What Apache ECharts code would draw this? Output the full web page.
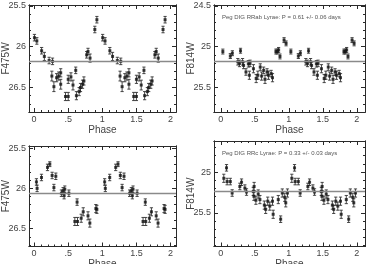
<!DOCTYPE html>
<html>
<head>
<meta charset="utf-8">
<script src="https://cdn.jsdelivr.net/npm/echarts@6/dist/echarts.min.js"></script>
<style>
  html, body { margin: 0; padding: 0; background: #fff; }
  #chart { width: 371px; height: 264px; }
</style>
</head>
<body>
<div id="chart"></div>
<script>
// light curves folded on the period, one cycle each (shown twice: phase and phase + 1)

// top left: F475W, RRab
const p1Phase = [0.005, 0.04, 0.11, 0.15, 0.22, 0.27, 0.26, 0.29, 0.33, 0.36, 0.39, 0.39, 0.46, 0.50, 0.50, 0.54, 0.57, 0.61, 0.62, 0.66, 0.68, 0.71, 0.73, 0.77, 0.79, 0.82, 0.89, 0.92]
const p1Mag = [25.89, 25.93, 26.05, 26.12, 26.17, 26.18, 26.36, 26.49, 26.38, 26.36, 26.32, 26.46, 26.61, 26.61, 26.40, 26.37, 26.47, 26.29, 26.60, 26.55, 26.50, 26.46, 26.42, 26.10, 26.06, 26.14, 25.79, 25.67]
const p1Err = [0.04, 0.04, 0.04, 0.05, 0.04, 0.04, 0.06, 0.06, 0.05, 0.05, 0.05, 0.06, 0.05, 0.05, 0.05, 0.05, 0.06, 0.04, 0.05, 0.05, 0.05, 0.05, 0.05, 0.04, 0.04, 0.05, 0.04, 0.04]
const p1Mean = 26.185

// top right: F814W, RRab
const p2Phase = [0.03, 0.14, 0.17, 0.25, 0.275, 0.29, 0.32, 0.335, 0.37, 0.405, 0.42, 0.43, 0.48, 0.52, 0.545, 0.58, 0.60, 0.63, 0.65, 0.68, 0.70, 0.74, 0.76, 0.81, 0.83, 0.85, 0.87, 0.93, 0.96]
const p2Mag = [25.06, 25.115, 25.08, 25.185, 25.205, 25.05, 25.185, 25.23, 25.31, 25.21, 25.35, 25.205, 25.27, 25.39, 25.35, 25.25, 25.36, 25.29, 25.40, 25.31, 25.35, 25.33, 25.38, 25.06, 25.06, 25.04, 25.12, 24.92, 24.96]
const p2Err = [0.03, 0.03, 0.03, 0.04, 0.04, 0.03, 0.04, 0.04, 0.04, 0.04, 0.05, 0.04, 0.05, 0.05, 0.05, 0.04, 0.05, 0.04, 0.05, 0.04, 0.05, 0.04, 0.05, 0.03, 0.03, 0.03, 0.03, 0.03, 0.03]
const p2Mean = 25.176

// bottom left: F475W, RRc
const p3Phase = [0.034, 0.044, 0.108, 0.196, 0.23, 0.264, 0.29, 0.318, 0.40, 0.425, 0.44, 0.45, 0.51, 0.597, 0.63, 0.636, 0.69, 0.72, 0.79, 0.817, 0.905, 0.92]
const p3Mag = [25.92, 26.00, 25.865, 25.74, 25.70, 25.84, 25.99, 25.85, 26.06, 26.03, 26.09, 26.01, 26.06, 26.41, 26.17, 26.41, 26.37, 26.29, 26.34, 26.43, 26.25, 26.26]
const p3Err = [0.04, 0.04, 0.04, 0.04, 0.03, 0.04, 0.04, 0.04, 0.04, 0.04, 0.04, 0.04, 0.04, 0.05, 0.04, 0.05, 0.05, 0.05, 0.05, 0.05, 0.05, 0.05]
const p3Mean = 26.06

// bottom right: F814W, RRc
const p4Phase = [0.044, 0.084, 0.093, 0.14, 0.167, 0.28, 0.305, 0.354, 0.378, 0.477, 0.49, 0.487, 0.516, 0.55, 0.575, 0.64, 0.66, 0.69, 0.72, 0.76, 0.77, 0.845, 0.88, 0.904, 0.94, 0.955, 0.98]
const p4Mag = [25.076, 24.948, 25.116, 25.116, 25.256, 25.176, 25.124, 25.196, 25.244, 25.236, 25.176, 25.296, 25.344, 25.268, 25.336, 25.404, 25.456, 25.356, 25.416, 25.356, 25.516, 25.336, 25.576, 25.256, 25.308, 25.376, 25.256]
const p4Err = [0.05, 0.04, 0.04, 0.04, 0.04, 0.04, 0.04, 0.04, 0.04, 0.05, 0.05, 0.05, 0.05, 0.05, 0.05, 0.05, 0.05, 0.05, 0.05, 0.05, 0.05, 0.05, 0.04, 0.05, 0.05, 0.05, 0.05]
const p4Mean = 25.24

// tick labels
const xMajor = [0, 0.5, 1, 1.5, 2]
const xMajorLabels = ['0', '.5', '1', '1.5', '2']
const p1YMajor = [25.5, 26, 26.5]
const p2YMajor = [24.5, 25, 25.5]
const p3YMajor = [25.5, 26, 26.5]
const p4YMajor = [25, 25.5]

const notes = ['', 'Peg DIG RRab Lyrae: P = 0.61 +/- 0.06 days', '', 'Peg DIG RRc Lyrae: P = 0.33 +/- 0.03 days']

const panels = [
  { phase: p1Phase, mag: p1Mag, err: p1Err, mean: p1Mean, yMajor: p1YMajor, band: 'F475W',
    grid: { left: 29, top: 5, width: 147, height: 107 }, x: [-0.075, 2.08], y: [25.49, 26.8] },
  { phase: p2Phase, mag: p2Mag, err: p2Err, mean: p2Mean, yMajor: p2YMajor, band: 'F814W',
    grid: { left: 214, top: 5, width: 151, height: 107 }, x: [-0.1, 2.12], y: [24.49, 25.8] },
  { phase: p3Phase, mag: p3Mag, err: p3Err, mean: p3Mean, yMajor: p3YMajor, band: 'F475W',
    grid: { left: 29, top: 146, width: 147, height: 100.5 }, x: [-0.075, 2.08], y: [25.475, 26.72] },
  { phase: p4Phase, mag: p4Mag, err: p4Err, mean: p4Mean, yMajor: p4YMajor, band: 'F814W',
    grid: { left: 214, top: 141, width: 151, height: 105.5 }, x: [-0.1, 2.12], y: [24.62, 25.91] }
]

const FONT = 'Liberation Sans, Arial, sans-serif'
const INK = '#2a2a2a'

// tenths between min and max, for the small ticks
function tenths(min, max) {
  const out = []
  for (let k = Math.ceil(min * 10); k <= Math.floor(max * 10); k++) out.push(k / 10)
  return out
}

function axis(i, range, pos, values, len, labels) {
  return {
    gridIndex: i, type: 'value', min: range[0], max: range[1], position: pos,
    inverse: (pos === 'left' || pos === 'right'),
    axisLine: { show: true, onZero: false, lineStyle: { color: INK, width: 1 } },
    axisTick: { show: true, inside: true, length: len, customValues: values, lineStyle: { color: INK, width: 1 } },
    axisLabel: labels ? {
      show: true, customValues: values, fontSize: 9, fontFamily: FONT, color: '#444', margin: 3,
      formatter: labels
    } : { show: false },
    splitLine: { show: false }
  }
}

const xAxes = [], yAxes = [], series = [], grids = []

panels.forEach((p, i) => {
  // keep the boxes where they are, even if "Phase" runs off the bottom
  grids.push(Object.assign({ containLabel: false, outerBoundsMode: 'none' }, p.grid))
  const xMinor = tenths(0, 2)
  const yMinor = tenths(p.y[0], p.y[1])

  const xMain = axis(i, p.x, 'bottom', xMajor, 4, v => xMajorLabels[xMajor.indexOf(v)])
  xMain.name = 'Phase'
  xMain.nameLocation = 'middle'
  xMain.nameGap = 13
  xMain.nameMoveOverlap = false
  xMain.nameTextStyle = { fontSize: 10, fontFamily: FONT, color: '#444' }
  const xIndex = xAxes.length
  xAxes.push(xMain, axis(i, p.x, 'bottom', xMinor, 2), axis(i, p.x, 'top', xMajor, 4), axis(i, p.x, 'top', xMinor, 2))

  const yMain = axis(i, p.y, 'left', p.yMajor, 4, v => String(v))
  yMain.name = p.band
  yMain.nameLocation = 'middle'
  yMain.nameGap = 18
  yMain.nameMoveOverlap = false
  yMain.nameTextStyle = { fontSize: 10, fontFamily: FONT, color: '#444' }
  const yIndex = yAxes.length
  yAxes.push(yMain, axis(i, p.y, 'left', yMinor, 2), axis(i, p.y, 'right', p.yMajor, 4), axis(i, p.y, 'right', yMinor, 2))

  // two cycles of the same measurements
  const rows = []
  p.phase.forEach((ph, k) => rows.push([ph, p.mag[k], p.err[k]]))
  p.phase.forEach((ph, k) => rows.push([ph + 1, p.mag[k], p.err[k]]))

  series.push({
    type: 'custom', xAxisIndex: xIndex, yAxisIndex: yIndex, data: rows,
    encode: { x: 0, y: 1 }, silent: true,
    renderItem: (params, api) => {
      const x = api.value(0), y = api.value(1), e = api.value(2)
      const lo = api.coord([x, y - e]), hi = api.coord([x, y + e])
      const st = { stroke: '#333', lineWidth: 0.9 }
      return {
        type: 'group',
        children: [
          { type: 'line', shape: { x1: lo[0], y1: lo[1], x2: hi[0], y2: hi[1] }, style: st },
          { type: 'line', shape: { x1: lo[0] - 1.6, y1: lo[1], x2: lo[0] + 1.6, y2: lo[1] }, style: st },
          { type: 'line', shape: { x1: hi[0] - 1.6, y1: hi[1], x2: hi[0] + 1.6, y2: hi[1] }, style: st }
        ]
      }
    }
  })

  series.push({
    type: 'scatter', xAxisIndex: xIndex, yAxisIndex: yIndex, data: rows.map(r => [r[0], r[1]]),
    symbol: 'rect', symbolSize: 3, itemStyle: { color: '#111' }, silent: true,
    markLine: {
      silent: true, symbol: 'none', label: { show: false },
      lineStyle: { color: '#8a8a8a', width: 1.4, type: 'solid' },
      data: [{ yAxis: p.mean }]
    }
  })
})

const graphics = []
notes.forEach((t, i) => {
  if (!t) return
  graphics.push({
    type: 'text', left: panels[i].grid.left + 8, top: panels[i].grid.top + 9,
    style: { text: t, fontSize: 6, fontFamily: FONT, fill: '#555' }
  })
})

const chart = echarts.init(document.getElementById('chart'), null, { renderer: 'canvas' })
chart.setOption({
  animation: false,
  backgroundColor: '#fff',
  grid: grids,
  xAxis: xAxes,
  yAxis: yAxes,
  series: series,
  graphic: graphics
})
</script>
</body>
</html>
